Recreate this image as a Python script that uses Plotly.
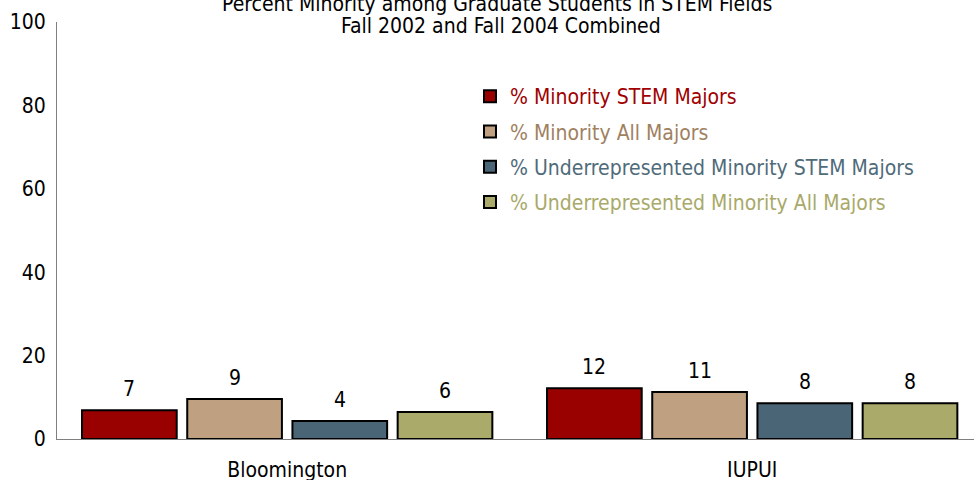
import plotly.graph_objects as go

campuses = ["Bloomington", "IUPUI"]
series_names = [
    "% Minority STEM Majors",
    "% Minority All Majors",
    "% Underrepresented Minority STEM Majors",
    "% Underrepresented Minority All Majors",
]
values = [
    [6.9, 12.2],
    [9.6, 11.3],
    [4.3, 8.6],
    [6.5, 8.6],
]
labels = [
    ["7", "12"],
    ["9", "11"],
    ["4", "8"],
    ["6", "8"],
]
title_lines = [
    "Percent Minority among Graduate Students in STEM Fields",
    "Fall 2002 and Fall 2004 Combined",
]
bar_colors = ["#990000", "#BFA181", "#4A6575", "#AAAA6A"]
text_colors = ["#A00000", "#A0815F", "#4F6B7A", "#A9A96A"]

FONT = "DejaVu Sans Condensed, DejaVu Sans, sans-serif"
FS = 21

W, H = 974, 480
ML, MT, MB = 57, 22, 41
PW, PH = W - ML, H - MT - MB

BARGAP = 0.095
BARGROUPGAP = 0.1

fig = go.Figure()
n_series = len(series_names)
slot = (1 - BARGAP) / n_series
annotations = []
for i, name in enumerate(series_names):
    fig.add_trace(go.Bar(
        x=campuses,
        y=values[i],
        name=f"<span style='color:{text_colors[i]}'>{name}</span>",
        legendgroup=f"g{i}",
        marker=dict(color=bar_colors[i], line=dict(color="black", width=2)),
        hoverinfo="y+name",
    ))
    for j, c in enumerate(campuses):
        annotations.append(dict(
            x=j + (i - (n_series - 1) / 2) * slot,
            y=values[i][j],
            xref="x", yref="y",
            text=labels[i][j],
            showarrow=False,
            xanchor="center", yanchor="bottom",
            yshift=7,
            font=dict(family=FONT, size=FS, color="black"),
        ))

# two title lines, placed separately to match the tight line spacing
for k, (line, cy, cx) in enumerate(zip(title_lines, [4, 26], [497, 501])):
    annotations.append(dict(
        text=line,
        xref="paper", yref="paper",
        x=(cx - ML) / PW, y=1 + (MT - cy) / PH,
        xanchor="center", yanchor="middle", showarrow=False,
        font=dict(family=FONT, size=FS, color="black"),
    ))

fig.update_layout(
    width=W,
    height=H,
    margin=dict(l=ML, r=0, t=MT, b=MB, autoexpand=False),
    paper_bgcolor="white",
    plot_bgcolor="white",
    font=dict(family=FONT, size=FS, color="black"),
    barmode="group",
    bargap=BARGAP,
    bargroupgap=BARGROUPGAP,
    showlegend=True,
    legend=dict(
        x=(470 - ML) / PW, y=(H - MB - 76) / PH, xanchor="left", yanchor="top",
        bgcolor="rgba(0,0,0,0)",
        font=dict(family=FONT, size=FS),
        tracegroupgap=5,
        traceorder="grouped",
    ),
    xaxis=dict(
        range=[-0.495, 1.477],
        showline=True, linecolor="#808080", linewidth=1,
        ticks="", showgrid=False, zeroline=False,
        tickfont=dict(family=FONT, size=FS),
        ticklabelstandoff=12,
        automargin=False,
    ),
    yaxis=dict(
        range=[0, 100],
        tickvals=[0, 20, 40, 60, 80, 100],
        showline=True, linecolor="#808080", linewidth=1,
        ticks="", showgrid=False, zeroline=False,
        tickfont=dict(family=FONT, size=FS),
        ticklabelstandoff=6,
        automargin=False,
    ),
    annotations=annotations,
)

fig.write_html(
    "out.html",
    config={"displayModeBar": False},
    post_script="document.body.style.margin='0';",
)
